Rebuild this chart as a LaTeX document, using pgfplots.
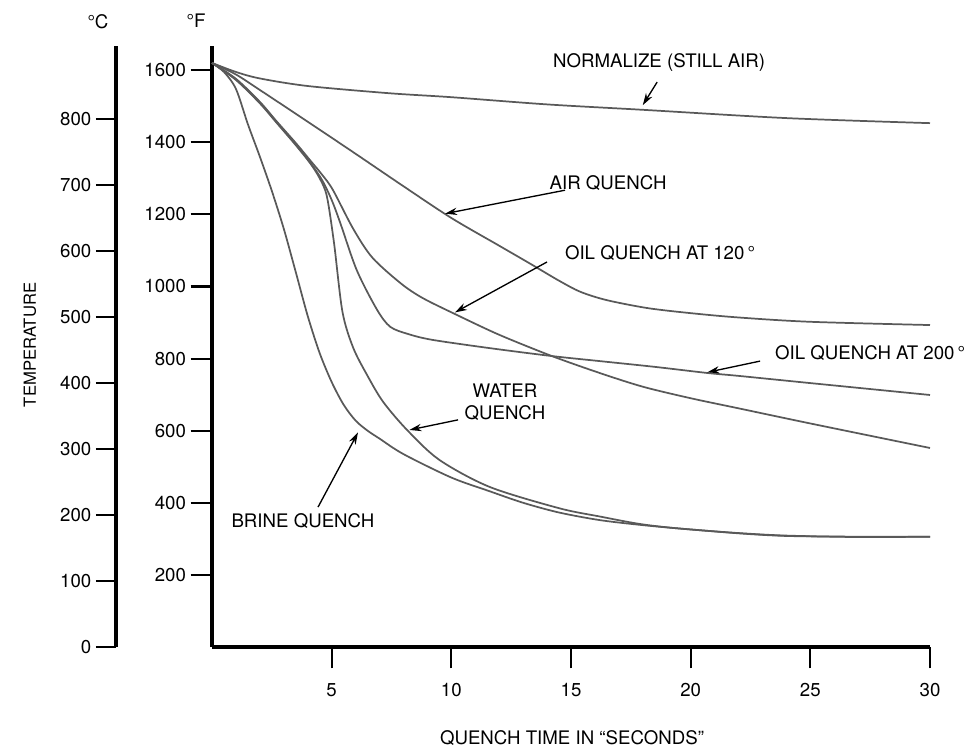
\documentclass[border=0pt]{standalone}
\usepackage{fontspec}
\setmainfont{TeX Gyre Heros}
\usepackage{pgfplots}
\pgfplotsset{compat=1.18}
\usetikzlibrary{arrows.meta}

\begin{document}
\begin{tikzpicture}[font=\fontsize{14}{16}\selectfont]
\useasboundingbox (-159pt,-76.5pt) rectangle (572.25pt,485.25pt);
\tikzset{
  curve/.style={black!65, line width=1.3pt, smooth, tension=0.5},
  pointer/.style={black, line width=1pt, -{Stealth[length=9pt,width=5.5pt]}},
}
\pgfplotsset{
  thickaxis/.style={
    axis line style={-, line width=2.4pt, black},
    every outer x axis line/.append style={-, line width=2.4pt},
    every outer y axis line/.append style={-, line width=2.4pt},
    every inner x axis line/.append style={-, line width=2.4pt},
    every inner y axis line/.append style={-, line width=2.4pt},
    tick style={line width=1.6pt, black},
    major tick style={line width=1.6pt, black},
  },
}
% second scale in degrees C
\begin{axis}[
  at={(-72pt,0)}, anchor=south west,
  scale only axis, width=10pt, height=450.75pt,
  xmin=0, xmax=1, ymin=0, ymax=910,
  hide x axis, axis y line=left,
  thickaxis,
  ytick={0,100,...,800},
  tick align=outside, major tick length=15pt,
  /pgf/number format/assume math mode=true,
  yticklabel style={font=\fontsize{14}{16}\selectfont},
]
\end{axis}
% main chart in degrees F
\begin{axis}[
  at={(0,0)}, anchor=south west,
  scale only axis, width=538.5pt, height=450.75pt,
  xmin=0, xmax=30, ymin=0, ymax=1667,
  axis x line=bottom, axis y line=left,
  thickaxis,
  xtick={5,10,...,30}, ytick={200,400,...,1600},
  tick align=outside, major tick length=16pt,
  /pgf/number format/assume math mode=true,
  /pgf/number format/1000 sep={},
  tick label style={font=\fontsize{14}{16}\selectfont},
  xticklabel style={yshift=-8pt},
  clip=false,
]
% normalize (still air)
\addplot[curve] coordinates {(0,1620) (1,1595) (2,1577) (4,1556) (7.4,1536) (10,1525) (14,1505) (18,1490) (24,1467) (30,1453)};
% air quench
\addplot[curve] coordinates {(0,1620) (1,1588) (2,1545) (4,1457) (6,1368) (8,1278) (10,1190) (12,1113) (13.3,1063) (14.5,1016) (15.4,985) (16.5,962) (18.2,940) (20,926) (22,914) (25,902) (30,893)};
% oil quench at 120
\addplot[curve] coordinates {(0,1620) (1,1576) (2,1512) (2.7,1458) (3.5,1398) (4.1,1350) (4.6,1310) (5.05,1268) (5.9,1160) (6.7,1080) (7.9,1008) (8.8,968) (10.2,922) (12,866) (14.2,807) (16.2,760) (18,722) (20,690) (22,662) (25,620) (30,552)};
% oil quench at 200
\addplot[curve] coordinates {(0,1620) (1,1574) (2,1510) (2.7,1456) (3.5,1394) (4.1,1344) (4.6,1295) (5,1240) (5.35,1178) (6.05,1045) (6.9,935) (7.45,888) (8.2,868) (9.2,852) (11.6,829) (14.2,807) (16.2,793) (18.5,777) (20.7,760) (22,752) (25,732) (30,699)};
% water quench
\addplot[curve] coordinates {(0,1620) (1,1573) (2,1508) (2.7,1454) (3.5,1392) (4.1,1342) (4.5,1300) (4.8,1250) (5.1,1120) (5.45,930) (5.9,830) (6.5,752) (7.15,680) (8.15,602) (9.5,519) (11.6,444) (14.5,385) (16.2,362) (18,340) (20,326) (24,308) (30,306)};
% brine quench
\addplot[curve] coordinates {(0,1620) (0.5,1595) (1,1548) (1.5,1450) (2,1360) (2.5,1265) (3,1160) (3.5,1040) (4,918) (4.5,815) (5,735) (5.5,672) (6,628) (6.5,600) (7,578) (8,535) (10,470) (11.6,432) (13,400) (14.5,373) (16.2,352) (18,338) (20,326) (22,316) (24,309) (27,305) (30,306)};

\node at (axis cs:18.68,1620) {NORMALIZE (STILL AIR)};
\draw[pointer] (axis cs:18.6,1567) -- (axis cs:18.0,1503);
\node at (axis cs:16.55,1287) {AIR QUENCH};
\draw[pointer] (axis cs:14.75,1267) -- (axis cs:9.74,1202);
\node at (axis cs:18.72,1093) {OIL QUENCH AT 120\,°};
\draw[pointer] (axis cs:14.0,1068) -- (axis cs:10.15,928);
\node at (axis cs:27.5,815) {OIL QUENCH AT 200\,°};
\draw[pointer] (axis cs:22.9,793) -- (axis cs:20.7,762);
\node[align=center] at (axis cs:12.24,679) {WATER\\QUENCH};
\draw[pointer] (axis cs:10.28,630) -- (axis cs:8.25,602);
\node at (axis cs:3.8,349) {BRINE QUENCH};
\draw[pointer] (axis cs:4.43,388) -- (axis cs:6.1,595);
\end{axis}
\node at (-85.5pt,468.75pt) {°C};
\node at (-12pt,469.5pt) {°F};
\node[rotate=90, font=\fontsize{12.5}{14}\selectfont] at (-136.5pt,226.5pt) {TEMPERATURE};
\node at (270pt,-68.25pt) {QUENCH TIME IN ``SECONDS''};
\end{tikzpicture}
\end{document}
